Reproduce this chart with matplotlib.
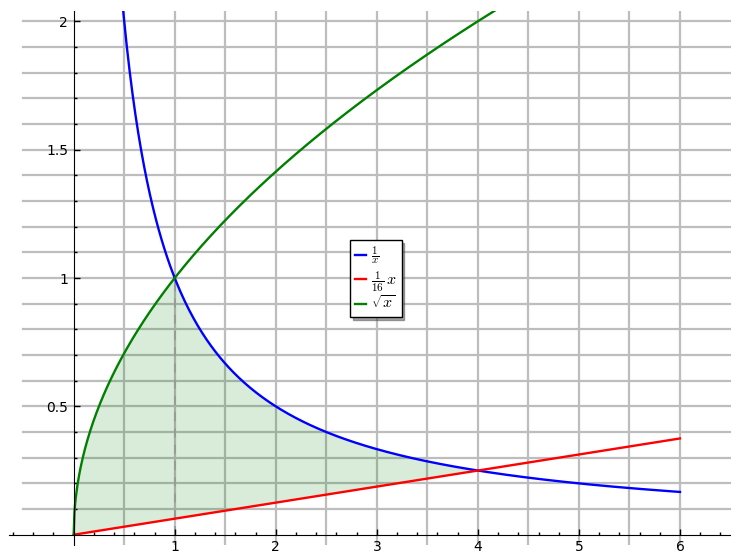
import numpy as np
from matplotlib import pyplot as plt

plt.rcParams['font.family'] = ['DejaVu Sans']
plt.rcParams['mathtext.fontset'] = 'cm'

# curves: 1/x, x/16, sqrt(x)
x_inv = np.linspace(0.25, 6, 400)
x_lin = np.linspace(0, 6, 400)
x_sqrt = np.linspace(0, 6, 800)
x_fill = np.linspace(0, 4, 400)
labels = [r'$\frac{1}{x}$', r'$\frac{1}{16}\,x$', r'$\sqrt{x}$']
colors = ['#0000ff', '#ff0000', '#008000']

xticks = [1, 2, 3, 4, 5, 6]
yticks = [0.5, 1, 1.5, 2]
ytick_labels = ['0.5', '1', '1.5', '2']

fig = plt.figure(figsize=(7.31, 5.54), dpi=100)
ax = fig.add_axes([9 / 731, 1 - 545 / 554, 722 / 731, 534 / 554])
ax.set_xlim(-0.64, 6.505)
ax.set_ylim(-0.04, 2.04)

# grid
grid_c = '#bdbdbd'
for gx in np.arange(0.5, 6.01, 0.5):
    ax.axvline(gx, color=grid_c, lw=1.6, zorder=0)
for gy in np.arange(0.1, 2.01, 0.1):
    ax.plot([-0.5, 6.6], [gy, gy], color=grid_c, lw=1.6, zorder=0, clip_on=True)

# shaded region
upper = np.minimum(np.sqrt(x_fill), 1 / np.maximum(x_fill, 1e-9))
ax.fill_between(x_fill, x_fill / 16, upper, color='#008000', alpha=0.15, lw=0, zorder=1)
ax.plot([1, 1], [0, 1], color='#999999', lw=1.3, ls=(0, (5, 4)), zorder=1)

ax.plot(x_inv, 1 / x_inv, color=colors[0], lw=1.7, label=labels[0], zorder=3)
ax.plot(x_lin, x_lin / 16, color=colors[1], lw=1.7, label=labels[1], zorder=3)
ax.plot(x_sqrt, np.sqrt(x_sqrt), color=colors[2], lw=1.7, label=labels[2], zorder=3)

# axes through origin
for s in ['top', 'right']:
    ax.spines[s].set_visible(False)
ax.spines['left'].set_position(('data', 0))
ax.spines['bottom'].set_position(('data', 0))
ax.spines['left'].set_zorder(4)
ax.spines['bottom'].set_zorder(4)

ax.set_xticks(xticks)
ax.set_xticklabels([str(t) for t in xticks])
ax.set_xticks(np.arange(-0.6, 6.41, 0.2), minor=True)
ax.set_yticks(yticks)
ax.set_yticklabels(ytick_labels)
ax.set_yticks(np.arange(0.1, 2.01, 0.1), minor=True)
ax.tick_params(which='major', direction='in', length=4, width=1, labelsize=10, pad=4)
ax.tick_params(which='minor', direction='in', length=2, width=1)

leg = ax.legend(loc='lower left', bbox_to_anchor=(350 / 731, 1 - 317 / 554),
                bbox_transform=fig.transFigure, borderaxespad=0,
                fancybox=False, shadow=True, framealpha=1, edgecolor='black',
                fontsize=11.5, handlelength=0.7, handletextpad=0.3,
                labelspacing=0.1, borderpad=0.3)
leg.get_frame().set_linewidth(1)

plt.savefig('out.png', dpi=100)
